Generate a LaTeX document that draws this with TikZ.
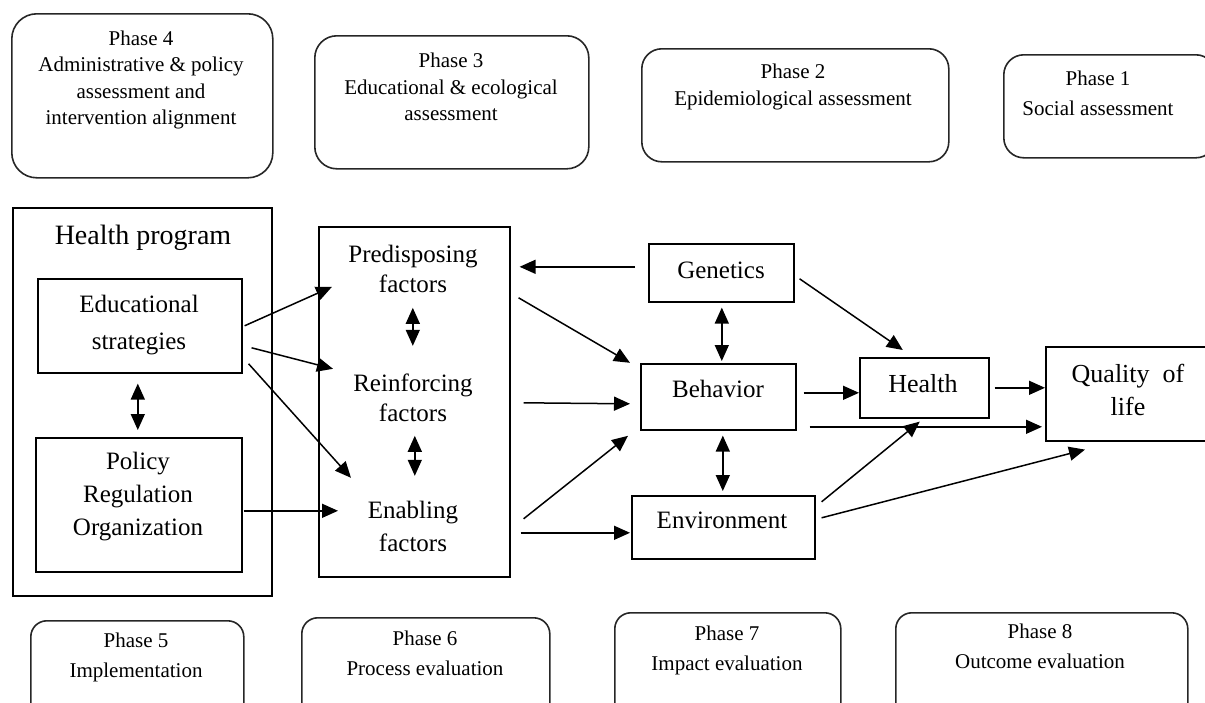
\documentclass[tikz,border=0pt]{standalone}
\usepackage{fontspec}
\setmainfont{Liberation Serif}
\usetikzlibrary{arrows.meta}
\begin{document}
\begin{tikzpicture}[x=1pt,y=-1pt,
  line width=1.6pt,
  box/.style={draw, rectangle, inner sep=0pt, anchor=north west},
  phasebox/.style={draw, rectangle, inner sep=0pt, anchor=north west, rounded corners=#1, draw=black!85},
  phasetxt/.style={align=center, font=\fontsize{21}{26.5}\selectfont, inner sep=0pt},
  phasetxtb/.style={align=center, font=\fontsize{21}{30}\selectfont, inner sep=0pt},
  midtxt/.style={align=center, font=\fontsize{25}{#1}\selectfont, inner sep=0pt},
  arr/.style={-{Triangle[length=16pt,width=14pt]}, line width=1.5pt},
  darr/.style={{Triangle[length=16pt,width=14pt]}-{Triangle[length=16pt,width=14pt]}, line width=1.5pt}]
\useasboundingbox (0,0) rectangle (1205,702);
\clip (0,0) rectangle (1205,702);
% top phase boxes
\node[phasebox=25pt, minimum width=261pt, minimum height=164pt] (p4) at (11,13) {};
\node[phasebox=22pt, minimum width=274pt, minimum height=133pt] (p3) at (314,35) {};
\node[phasebox=20pt, minimum width=307pt, minimum height=113pt] (p2) at (641,48) {};
\node[phasebox=20pt, minimum width=212pt, minimum height=103pt] (p1) at (1003,54) {};
\node[phasetxt] (p4t) at (141,80) {Phase 4\\Administrative \& policy\\assessment and\\intervention alignment};
\node[phasetxt] (p3t) at (451,87) {Phase 3\\Educational \& ecological\\assessment};
\node[phasetxt] (p2t) at (793,87) {Phase 2\\Epidemiological assessment};
\node[phasetxt, font=\fontsize{21}{30}\selectfont] (p1t) at (1098,93) {Phase 1\\Social assessment};
% bottom phase boxes
\node[phasebox=16pt, minimum width=213pt, minimum height=110pt] (p5) at (30,620) {};
\node[phasebox=16pt, minimum width=248pt, minimum height=110pt] (p6) at (301,617) {};
\node[phasebox=16pt, minimum width=226pt, minimum height=110pt] (p7) at (614,612) {};
\node[phasebox=16pt, minimum width=292pt, minimum height=110pt] (p8) at (895,612) {};
\node[phasetxtb] (p5t) at (136,657) {Phase 5\\Implementation};
\node[phasetxtb] (p6t) at (425,653) {Phase 6\\Process evaluation};
\node[phasetxtb] (p7t) at (727,650) {Phase 7\\Impact evaluation};
\node[phasetxtb] (p8t) at (1040,646) {Phase 8\\Outcome evaluation};
% health program
\node[box, minimum width=259pt, minimum height=388pt] (hp) at (12,207) {};
\node[inner sep=0pt, font=\fontsize{28}{32}\selectfont] (hpt) at (143,238) {Health program};
\node[box, minimum width=204pt, minimum height=94pt] (edu) at (37,278) {};
\node[midtxt=37] (edut) at (139,325) {Educational\\strategies};
\node[box, minimum width=206pt, minimum height=134pt] (pol) at (35,437) {};
\node[midtxt=33] (polt) at (138,497) {Policy\\Regulation\\Organization};
% factors
\node[box, minimum width=191pt, minimum height=350pt] (fac) at (318,226) {};
\node[midtxt=30] (pred) at (413,269) {Predisposing\\factors};
\node[midtxt=30] (reinf) at (413,398) {Reinforcing\\factors};
\node[midtxt=33] (enab) at (413,526) {Enabling\\factors};
% right side
\node[box, minimum width=145pt, minimum height=58pt] (gen) at (648,243) {};
\node[midtxt=30] (gent) at (721,270) {Genetics};
\node[box, minimum width=155pt, minimum height=66pt] (beh) at (640,363) {};
\node[midtxt=30] (beht) at (718,389) {Behavior};
\node[box, minimum width=183pt, minimum height=63pt] (env) at (631,495) {};
\node[midtxt=30] (envt) at (722,520) {Environment};
\node[box, minimum width=129pt, minimum height=60pt] (hea) at (859,357) {};
\node[inner sep=0pt, font=\fontsize{26}{30}\selectfont] (heat) at (923,384) {Health};
\node[box, minimum width=167pt, minimum height=94pt] (qol) at (1045,346) {};
\node[align=center, inner sep=0pt, font=\fontsize{26}{33}\selectfont] (qolt) at (1128,390) {Quality\ \ of\\life};
% connectors
\draw[arr] ([shift={(2,0)}]edu.east) -- ([shift={(14,-115)}]fac.west);
\draw[arr] ([shift={(9,22)}]edu.east) -- ([shift={(15,-33)}]fac.west);
\draw[arr] ([shift={(6,38)}]edu.east) -- ([shift={(33,76)}]fac.west);
\draw[arr] ([shift={(1,6)}]pol.east) -- ([shift={(20,109)}]fac.west);
\draw[darr] ([shift={(-2,10)}]edu.south) -- ([shift={(-1,-7)}]pol.north);
\draw[darr] ([shift={(-1.5,-94)}]fac.center) -- ([shift={(-1.5,-56)}]fac.center);
\draw[darr] ([shift={(0.5,34)}]fac.center) -- ([shift={(0.5,74)}]fac.center);
\draw[arr] ([shift={(-13,-6)}]gen.west) -- ([shift={(9,-135)}]fac.east);
\draw[arr] ([shift={(8,-104)}]fac.east) -- ([shift={(-10,-34)}]beh.west);
\draw[arr] ([shift={(13,1)}]fac.east) -- ([shift={(-10,7)}]beh.west);
\draw[arr] ([shift={(13,117)}]fac.east) -- ([shift={(-12,39)}]beh.west);
\draw[arr] ([shift={(10,131)}]fac.east) -- ([shift={(-1,5.5)}]env.west);
\draw[darr] ([shift={(0.5,5)}]gen.south) -- ([shift={(3.5,-2)}]beh.north);
\draw[darr] ([shift={(4.5,5)}]beh.south) -- ([shift={(-0.5,-4)}]env.north);
\draw[arr] ([shift={(5,6)}]gen.east) -- ([shift={(-21.5,-7)}]hea.north);
\draw[arr] ([shift={(7,-4)}]beh.east) -- ([shift={(0,5)}]hea.west);
\draw[arr] ([shift={(13,30)}]beh.east) -- ([shift={(-3,33)}]qol.west);
\draw[arr] ([shift={(6,-25.5)}]env.east) -- ([shift={(-4.5,3)}]hea.south);
\draw[arr] ([shift={(6,-9.5)}]env.east) -- ([shift={(40,8)}]qol.south west);
\draw[arr] ([shift={(5,0)}]hea.east) -- ([shift={(0,-6)}]qol.west);
\end{tikzpicture}
\end{document}
